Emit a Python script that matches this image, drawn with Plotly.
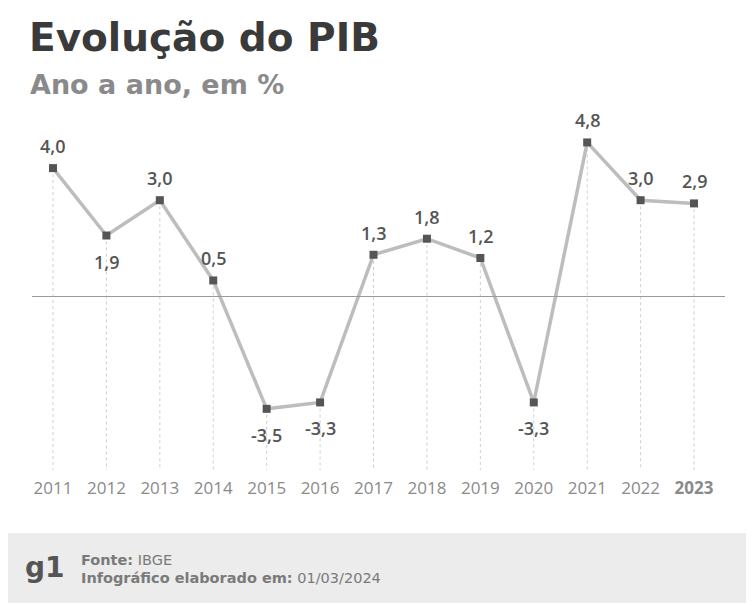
import plotly.graph_objects as go

anos = [2011, 2012, 2013, 2014, 2015, 2016, 2017, 2018, 2019, 2020, 2021, 2022, 2023]
pib = [4.0, 1.9, 3.0, 0.5, -3.5, -3.3, 1.3, 1.8, 1.2, -3.3, 4.8, 3.0, 2.9]
rotulo_abaixo = [2012, 2015, 2016, 2020]
rotulos_anos = [str(a) for a in anos[:-1]] + ["<b>2023</b>"]

W, H = 753, 605
y_min, y_max = -5.405, 9.237
x_min, x_max = 2010.008, 2024.104

fig = go.Figure()

# linhas pontilhadas verticais (do ponto até a base)
gx, gy = [], []
for a, v in zip(anos, pib):
    gx += [a, a, None]
    gy += [v, y_min, None]
fig.add_trace(go.Scatter(x=gx, y=gy, mode="lines",
                         line=dict(color="#cfcfcf", width=1, dash="3px,3px"),
                         hoverinfo="skip", showlegend=False))

# linha do zero
fig.add_shape(type="line", x0=2010.607, x1=2023.58, y0=0, y1=0,
              line=dict(color="#9a9a9a", width=1))

fig.add_trace(go.Scatter(x=anos, y=pib, mode="lines+markers",
                         line=dict(color="#bdbdbd", width=3.5),
                         marker=dict(symbol="square", size=8, color="#555555"),
                         showlegend=False))

for a, v in zip(anos, pib):
    txt = f"{v:.1f}".replace(".", ",")
    fig.add_annotation(x=a, y=v, text=txt, showarrow=False,
                       yshift=-26 if a in rotulo_abaixo else 22,
                       font=dict(family="Open Sans", size=18, color="#555555", weight=600))

# titulo e subtitulo
fig.add_annotation(xref="paper", yref="paper", x=27 / W, y=1 - 37 / H,
                   xanchor="left", yanchor="middle", showarrow=False,
                   text="<b>Evolução do PIB</b>",
                   font=dict(family="DejaVu Sans", size=39, color="#3a3a3a"))
fig.add_annotation(xref="paper", yref="paper", x=28 / W, y=1 - 85 / H,
                   xanchor="left", yanchor="middle", showarrow=False,
                   text="<b>Ano a ano, em %</b>",
                   font=dict(family="DejaVu Sans", size=27, color="#8a8a8a"))

# rodape
fig.add_shape(type="rect", xref="paper", yref="paper",
              x0=8 / W, x1=746 / W, y0=1 - 603 / H, y1=1 - 533 / H,
              fillcolor="#ececec", line=dict(width=0), layer="below")
fig.add_annotation(xref="paper", yref="paper", x=23 / W, y=1 - 567 / H,
                   xanchor="left", yanchor="middle", showarrow=False,
                   text="<b>g1</b>", font=dict(family="DejaVu Sans", size=28, color="#555555"))
fig.add_annotation(xref="paper", yref="paper", x=79 / W, y=1 - 560 / H,
                   xanchor="left", yanchor="middle", showarrow=False,
                   text="<b>Fonte:</b> IBGE",
                   font=dict(family="DejaVu Sans", size=14.5, color="#7a7a7a"))
fig.add_annotation(xref="paper", yref="paper", x=79 / W, y=1 - 578 / H,
                   xanchor="left", yanchor="middle", showarrow=False,
                   text="<b>Infográfico elaborado em:</b> 01/03/2024",
                   font=dict(family="DejaVu Sans", size=14.5, color="#7a7a7a"))

fig.update_layout(
    width=W, height=H,
    margin=dict(l=0, r=0, t=0, b=0),
    paper_bgcolor="white", plot_bgcolor="white",
    xaxis=dict(range=[x_min, x_max], tickvals=anos, ticktext=rotulos_anos,
               showgrid=False, zeroline=False, showline=False,
               ticks="outside", ticklen=3, tickcolor="rgba(0,0,0,0)",
               tickfont=dict(family="Open Sans", size=17, color="#8a8a8a")),
    yaxis=dict(range=[y_min, y_max], domain=[(H - 470) / H, 1],
               visible=False, showgrid=False, zeroline=False),
)

fig.write_html("out.html", config={"displayModeBar": False},
               post_script="document.body.style.margin='0px';")
